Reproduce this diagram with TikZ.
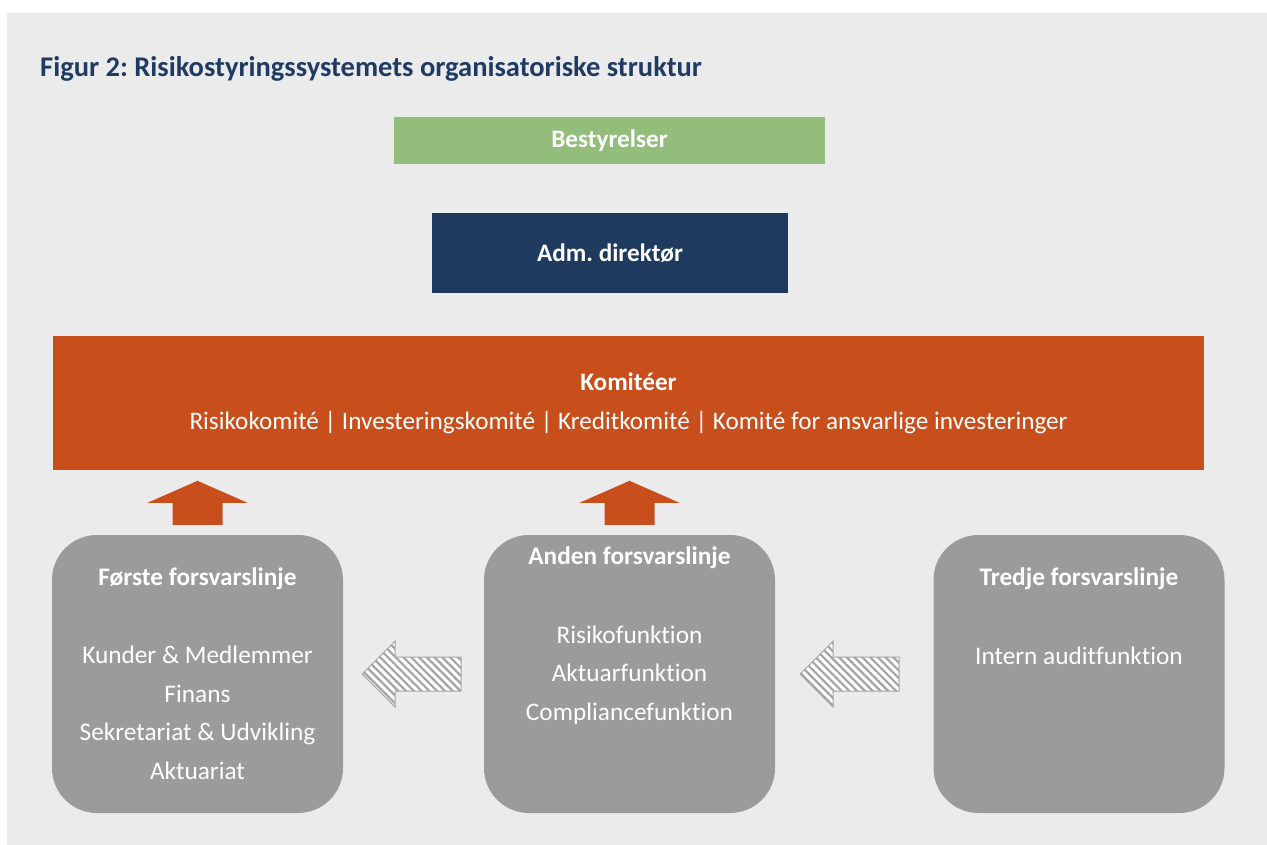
\documentclass[tikz,border=0pt]{standalone}
\usepackage{fontspec}
\setmainfont{Carlito}[Ligatures=NoCommon]
\frenchspacing
\usetikzlibrary{positioning,patterns.meta}
\definecolor{bggray}{HTML}{EBEBEB}
\definecolor{titleblue}{HTML}{1F3B63}
\definecolor{boardgreen}{HTML}{92BD7B}
\definecolor{ceoblue}{HTML}{1E3A5F}
\definecolor{komorange}{HTML}{C84F1B}
\definecolor{linegray}{HTML}{9B9B9B}
\definecolor{hatchgray}{HTML}{A4A4A4}
\tikzset{
  topbox/.style  = { fill=#1, text=white, inner sep=0pt, font=\bfseries\fontsize{25.2}{30}\selectfont },
  kombox/.style  = { fill=komorange, text=white, inner sep=0pt, align=center,
                     minimum width=1151pt, minimum height=134pt, font=\fontsize{25.2}{39}\selectfont },
  linebox/.style = { fill=linegray, rounded corners=45pt, minimum width=291pt, minimum height=278pt },
  head/.style    = { text=white, inner sep=0pt, font=\bfseries\fontsize{25.3}{30}\selectfont },
  items/.style   = { text=white, inner sep=0pt, align=center, font=\fontsize{25.3}{38.5}\selectfont },
  uparrow/.style = { fill=komorange },
  hatched/.style = { draw=hatchgray, line width=1pt, preaction={fill=white},
                     pattern={Lines[angle=-45,distance=5.5pt,line width=2.2pt]}, pattern color=hatchgray }
}

\begin{document}
\begin{tikzpicture}[x=1pt, y=-1pt]
    \useasboundingbox (0,0) rectangle (1267,845);
    \fill[white] (0,0) rectangle (1267,845);
    \fill[bggray] (7,13) rectangle (1267,845);

    \node[anchor=base west, inner sep=0pt, text=titleblue, font=\bfseries\fontsize{28.5}{33}\selectfont]
        (title) at (40,77) {Figur 2: Risikostyringssystemets organisatoriske struktur};

    \node[topbox=boardgreen, minimum width=431pt, minimum height=47pt] (board) at (609.5,140.5) {Bestyrelser};
    \node[topbox=ceoblue,    minimum width=356pt, minimum height=80pt] (ceo)   at (610,253)     {Adm. direktør};

    \node[kombox] (kom) at (628.5,403)
        {\textbf{Komitéer}\\
         Risikokomité | Investeringskomité | Kreditkomité | Komité for ansvarlige investeringer};

    \node[linebox] (first)  at (197.5,674) {};
    \node[linebox] (second) at (629.5,674) {};
    \node[linebox] (third)  at (1079,674)  {};

    \node[head] (firsthead)  at ([yshift=-44pt]first.north)  {Første forsvarslinje};
    \node[head] (secondhead) at ([yshift=-23pt]second.north) {Anden forsvarslinje};
    \node[head] (thirdhead)  at ([yshift=-44pt]third.north)  {Tredje forsvarslinje};

    \node[items] (firstitems)  at ([yshift=-178pt]first.north)
        {Kunder \& Medlemmer\\Finans\\Sekretariat \& Udvikling\\Aktuariat};
    \node[items] (seconditems) at ([yshift=-140pt]second.north)
        {Risikofunktion\\Aktuarfunktion\\Compliancefunktion};
    \node[items] (thirditems)  at ([yshift=-121pt]third.north)
        {Intern auditfunktion};

    %% arrows up to the committees
    \fill[uparrow] ([xshift=-25pt,yshift=10pt]first.north)  -- ++(0,-22) -- ++(-25,0) -- ++(50,-22)
        -- ++(50,22) -- ++(-25,0) -- ++(0,22) -- cycle;
    \fill[uparrow] ([xshift=-25pt,yshift=10pt]second.north) -- ++(0,-22) -- ++(-25,0) -- ++(50,-22)
        -- ++(50,22) -- ++(-25,0) -- ++(0,22) -- cycle;

    %% arrows between the lines of defence
    \draw[hatched] ([xshift=19pt]first.east)  -- ++(33,-33) -- ++(0,16) -- ++(66,0) -- ++(0,34)
        -- ++(-66,0) -- ++(0,16) -- cycle;
    \draw[hatched] ([xshift=25pt]second.east) -- ++(33,-33) -- ++(0,16) -- ++(66,0) -- ++(0,34)
        -- ++(-66,0) -- ++(0,16) -- cycle;
\end{tikzpicture}
\end{document}
